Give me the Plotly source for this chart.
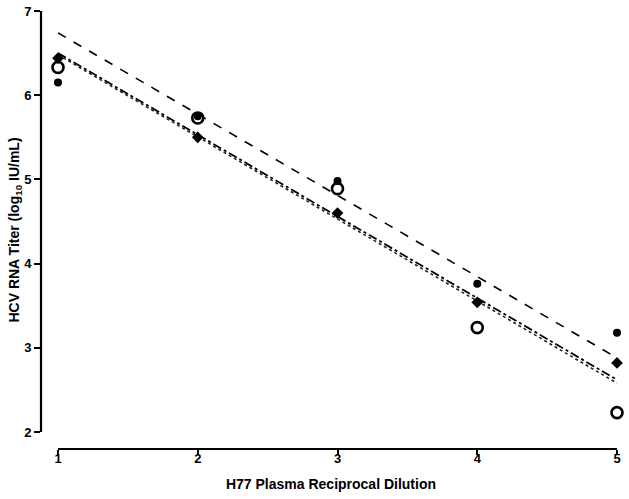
import plotly.graph_objects as go

dilution = [1, 2, 3, 4, 5]
filled_circle = [6.15, 5.75, 4.98, 3.76, 3.18]
diamond = [6.44, 5.50, 4.60, 3.54, 2.82]
open_circle = [6.33, 5.73, 4.89, 3.24, 2.23]

fit_x = [1, 5]
fit_dashed = [6.74, 2.88]
fit_dashdot = [6.50, 2.62]
fit_dotted = [6.48, 2.58]

x_ticks = [1, 2, 3, 4, 5]
y_ticks = [2, 3, 4, 5, 6, 7]

fam = "Liberation Sans, Arial, sans-serif"

fig = go.Figure()
fig.add_trace(go.Scatter(x=fit_x, y=fit_dashed, mode="lines", cliponaxis=False,
                         line=dict(color="black", width=1.6, dash="dash")))
fig.add_trace(go.Scatter(x=fit_x, y=fit_dashdot, mode="lines", cliponaxis=False,
                         line=dict(color="black", width=1.8, dash="dashdot")))
fig.add_trace(go.Scatter(x=fit_x, y=fit_dotted, mode="lines", cliponaxis=False,
                         line=dict(color="#222", width=1.6, dash="dot")))
fig.add_trace(go.Scatter(x=dilution, y=filled_circle, mode="markers", cliponaxis=False,
                         marker=dict(symbol="circle", size=8, color="black")))
fig.add_trace(go.Scatter(x=dilution, y=diamond, mode="markers", cliponaxis=False,
                         marker=dict(symbol="diamond", size=9, color="black")))
fig.add_trace(go.Scatter(x=dilution, y=open_circle, mode="markers", cliponaxis=False,
                         marker=dict(symbol="circle-open", size=11, color="black",
                                     line=dict(width=2.6, color="black"))))

# axis lines (offset from each other, like the reference)
fig.add_shape(type="line", xref="paper", yref="y", x0=0, x1=0,
              y0=min(y_ticks), y1=max(y_ticks), line=dict(color="black", width=2.2))
fig.add_shape(type="line", xref="x", yref="paper", y0=0, y1=0,
              x0=min(x_ticks), x1=max(x_ticks), line=dict(color="black", width=2.2))

fig.update_layout(
    width=629, height=499,
    margin=dict(l=41, r=8, t=11, b=50, autoexpand=False),
    paper_bgcolor="white", plot_bgcolor="white",
    showlegend=False,
    font=dict(family=fam, color="black"),
    xaxis=dict(
        range=[1 - 17 / 139.75, 5 + 4 / 139.75], automargin=False,
        tickvals=x_ticks, ticks="outside", ticklen=5, tickwidth=2, tickcolor="black",
        ticklabelstandoff=-8, ticklabeloverflow="allow",
        showline=False, showgrid=False, zeroline=False,
        tickfont=dict(size=13, weight="bold", family=fam),
        title=dict(text="H77 Plasma Reciprocal Dilution",
                   font=dict(size=14, weight="bold", family=fam), standoff=14),
    ),
    yaxis=dict(
        range=[2 - 17 / 84.2, 7], automargin=False,
        tickvals=y_ticks, ticks="outside", ticklen=6, tickwidth=2, tickcolor="black",
        ticklabeloverflow="allow",
        showline=False, showgrid=False, zeroline=False,
        tickfont=dict(size=13, weight="bold", family=fam),
        title=dict(text="HCV RNA Titer (log<sub>10</sub> IU/mL)",
                   font=dict(size=14, weight="bold", family=fam), standoff=0),
    ),
)

fig.write_html("out.html", config={"displayModeBar": False},
               post_script="document.body.style.margin='0';document.body.style.overflow='hidden';")
